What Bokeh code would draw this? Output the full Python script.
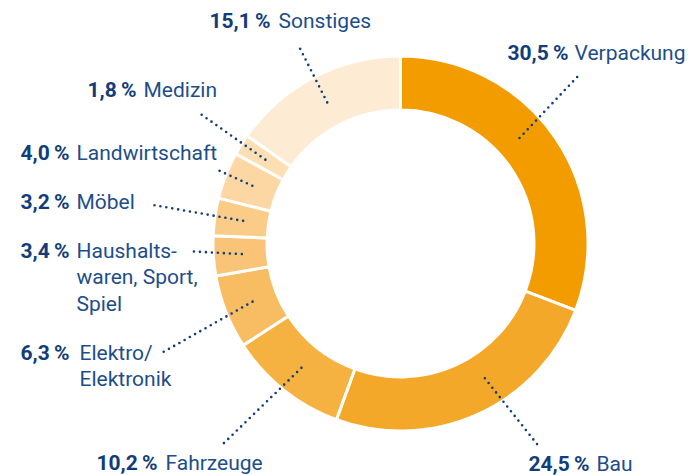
import math
from bokeh.plotting import figure
from bokeh.models import Range1d, ColumnDataSource
from bokeh.core.properties import value
from bokeh.embed import file_html
from bokeh.resources import INLINE

# ---- data ----
categories = ["Verpackung", "Bau", "Fahrzeuge", "Elektro/\nElektronik",
              "Haushalts-\nwaren, Sport,\nSpiel", "Möbel", "Landwirtschaft",
              "Medizin", "Sonstiges"]
shares = [30.5, 24.5, 10.2, 6.3, 3.4, 3.2, 4.0, 1.8, 15.1]
colors = ["#F39C00", "#F4A82A", "#F6B240", "#F8BD62", "#F9C477",
          "#FBCC88", "#FCD7A3", "#FDDFB4", "#FDEBD3"]

# ---- layout (page pixel coordinates, y downwards) ----
PAGE_W, PAGE_H = 699, 475
CX, CY = 400, 243
R_OUT, R_IN = 186, 135
pct_right_x = [568, 589, 157, 69, 69, 69, 69, 136, 270]
name_gap = [6, 7, 8, 10, 7, 7, 7, 7, 8]
baseline_y = [60, 471, 470, 360, 258, 209, 160, 97, 28]
TEXT_DY = -8  # renderer places text slightly below the requested baseline
line_step = 26.5
leader_outer = [(579, 74), (540, 448), (222, 444), (162, 352), (193, 251),
                (150, 204), (214, 168), (198, 112), (297, 43)]
leader_nudge = [-7, -7.5, 0, 0, 0, 0, 0, 0, 0]
LEADER_R = 159

NAME_COLOR = "#1D4E89"
PCT_COLOR = "#113D7A"
FONT = "Roboto"
FS = "21px"


def fy(py):
    return PAGE_H - py


p = figure(width=PAGE_W, height=PAGE_H, output_backend="svg", toolbar_location=None,
           x_range=Range1d(0, PAGE_W), y_range=Range1d(0, PAGE_H), min_border=0)
p.axis.visible = False
p.grid.visible = False
p.outline_line_color = None
p.background_fill_color = "white"
p.border_fill_color = "white"

total = sum(shares)
starts, ends, mids = [], [], []
acc = 0.0
for s in shares:
    a0 = acc / total * 360.0
    acc += s
    a1 = acc / total * 360.0
    starts.append(math.radians(90 - a0))
    ends.append(math.radians(90 - a1))
    mids.append((a0 + a1) / 2)

src = ColumnDataSource(dict(x=[CX] * len(shares), y=[fy(CY)] * len(shares),
                            start=starts, end=ends, color=colors))
p.annular_wedge(x="x", y="y", inner_radius=R_IN - 1.5, outer_radius=R_OUT + 1.5,
                start_angle="start", end_angle="end", direction="clock",
                fill_color="color", line_color="white", line_width=3, source=src)

# leader lines
xs, ys = [], []
for i, m in enumerate(mids):
    a = math.radians(m + leader_nudge[i])
    ix = CX + LEADER_R * math.sin(a)
    iy = CY - LEADER_R * math.cos(a)
    ox, oy = leader_outer[i]
    xs.append([ix, ox])
    ys.append([fy(iy), fy(oy)])
p.multi_line(xs=xs, ys=ys, line_color=PCT_COLOR, line_width=2.6,
             line_dash="0 6", line_cap="round")

# labels
pct_x, pct_y, pct_t = [], [], []
nm_x, nm_y, nm_t = [], [], []
for i, (c, s) in enumerate(zip(categories, shares)):
    pct_x.append(pct_right_x[i])
    pct_y.append(fy(baseline_y[i] + TEXT_DY))
    pct_t.append(f"{s:.1f}".replace(".", ",") + "\u2009%")
    for k, line in enumerate(c.split("\n")):
        nm_x.append(pct_right_x[i] + name_gap[i])
        nm_y.append(fy(baseline_y[i] + TEXT_DY + k * line_step))
        nm_t.append(line)

p.text(x=pct_x, y=pct_y, text=pct_t, text_font=value(FONT), text_font_size=FS,
       text_font_style="bold", text_color=PCT_COLOR, text_align="right",
       text_baseline="alphabetic")
p.text(x=nm_x, y=nm_y, text=nm_t, text_font=value(FONT), text_font_size=FS,
       text_color=NAME_COLOR, text_align="left", text_baseline="alphabetic")

open("out.html", "w").write(file_html(p, INLINE))
